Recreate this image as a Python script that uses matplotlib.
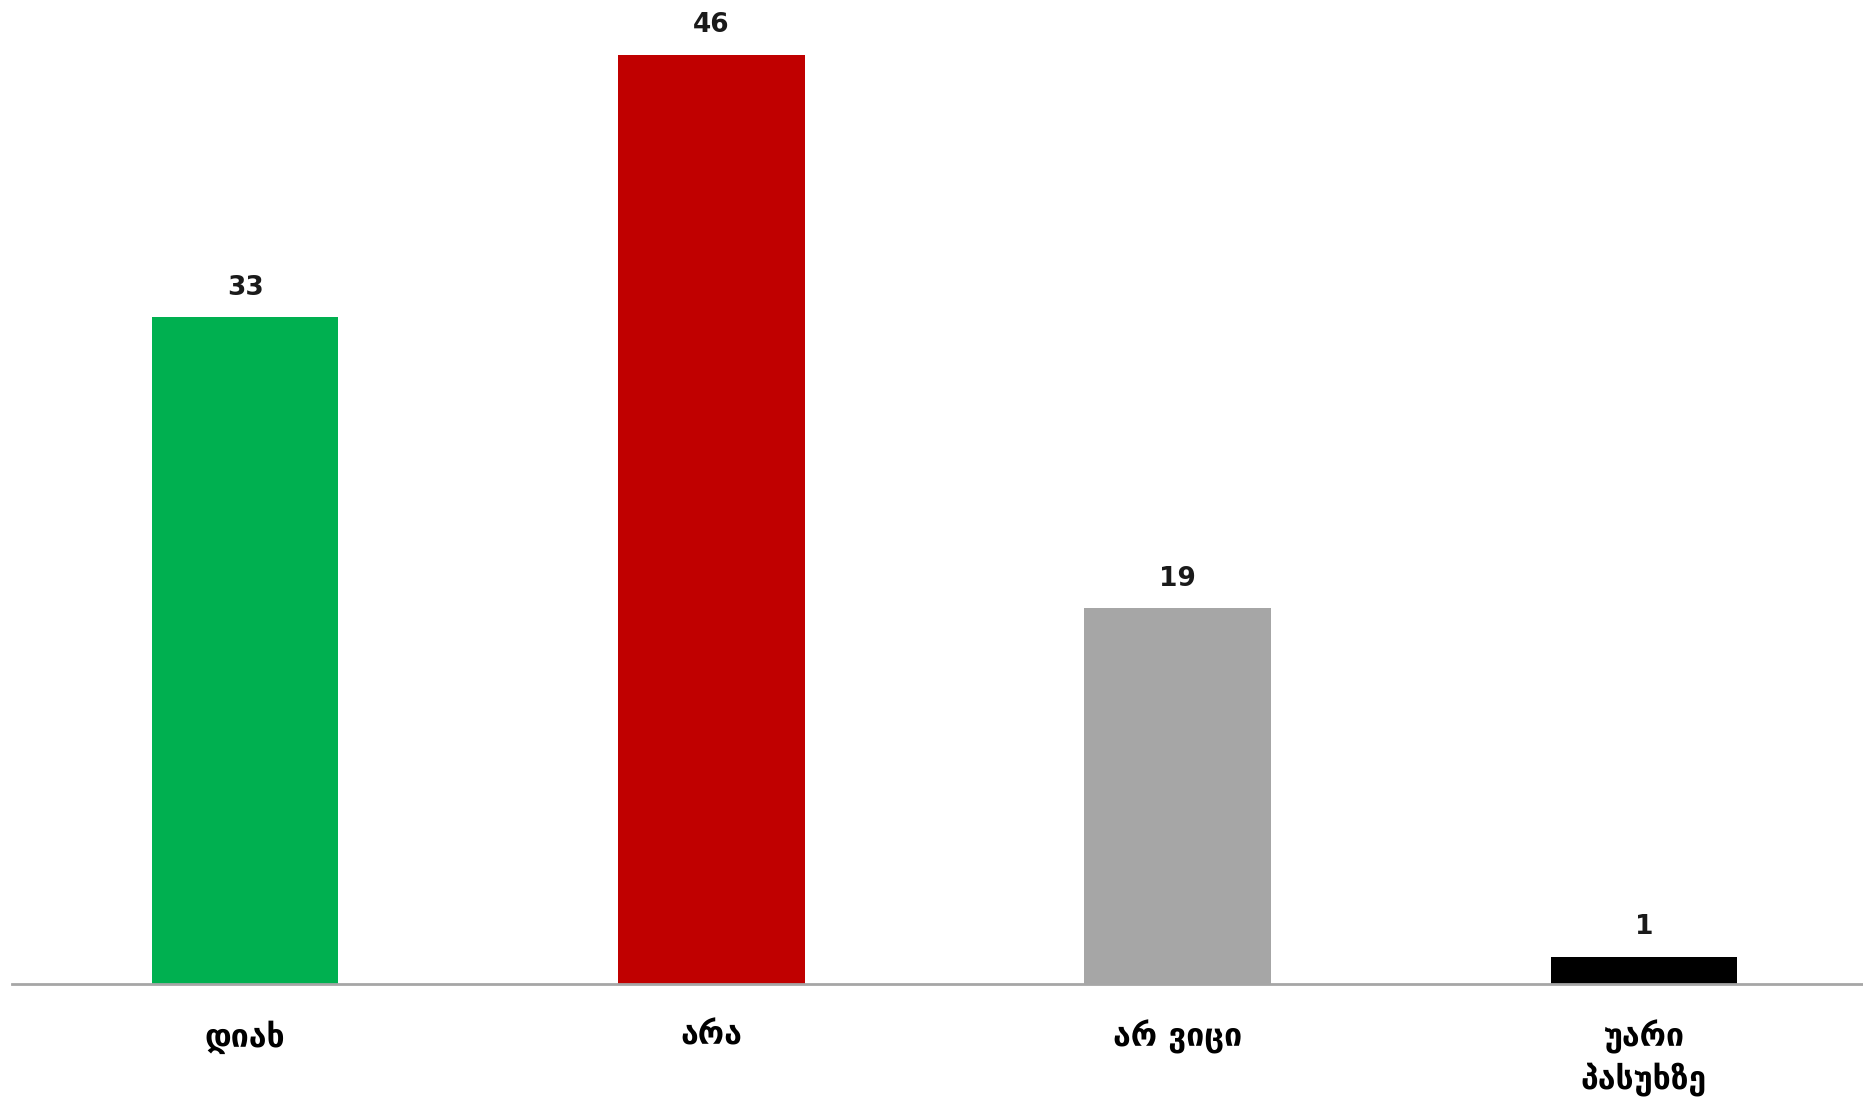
import matplotlib
matplotlib.use("Agg")
from matplotlib import pyplot as plt

# Données
categories = ["დიახ", "არა", "არ ვიცი", "უარი\nპასუხზე"]
valeurs = [33, 46, 18.6, 1.35]
etiquettes = ["33", "46", "19", "1"]
couleurs = ["#00b050", "#c00000", "#a6a6a6", "#000000"]

plt.rcParams['font.family'] = ['DejaVu Sans']

fig = plt.figure(figsize=(18.63, 11.04), dpi=100)
ax = fig.add_axes([12 / 1863, 120 / 1104, 1 - 12 / 1863, 1 - 120 / 1104])

x = range(len(categories))
barres = ax.bar(x, valeurs, width=0.4, color=couleurs)

for b, v, t in zip(barres, valeurs, etiquettes):
    ax.annotate(t, (b.get_x() + b.get_width() / 2, v),
                xytext=(0, 12), textcoords='offset points',
                ha='center', va='bottom', fontsize=19, fontweight='bold',
                color='#1a1a1a')

ax.set_xlim(-0.5, 3.47)
ax.set_ylim(0, 48.7)

ax.set_xticks(list(x))
ax.set_xticklabels(categories, fontsize=23, linespacing=1.3, fontweight='bold')
ax.tick_params(axis='x', length=0, pad=26)
ax.set_yticks([])

for s in ['top', 'right', 'left']:
    ax.spines[s].set_visible(False)
ax.spines['bottom'].set_color('#a6a6a6')
ax.spines['bottom'].set_linewidth(2)

fig.savefig("out.png", dpi=100)
